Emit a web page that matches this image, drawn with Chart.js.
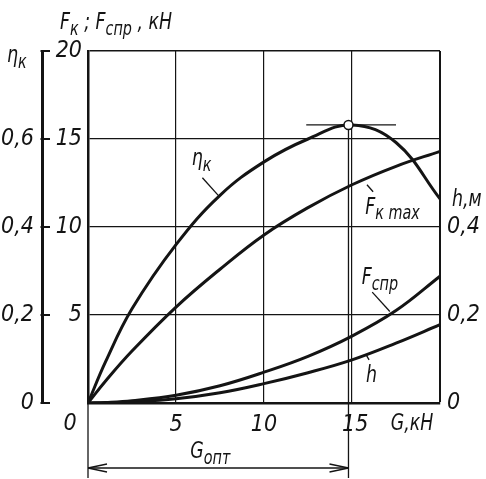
<!DOCTYPE html>
<html>
<head>
<meta charset="utf-8">
<script src="https://cdn.jsdelivr.net/npm/chart.js@4"></script>
<style>
  body { margin: 0; background: #fff; }
  canvas { display: block; }
</style>
</head>
<body>
<canvas id="chart" width="486" height="479"></canvas>
<script>
// load on the wheel G, kN
const loadG = [0, 1, 2.5, 5, 7.5, 10, 12.5, 15, 17.5, 20];
// efficiency (left scale)
const etaK = [0, 0.094, 0.214, 0.36, 0.472, 0.548, 0.6, 0.632, 0.592, 0.464];
// forces, kN
const fKmax = [0, 1.25, 2.95, 5.45, 7.6, 9.55, 11.1, 12.4, 13.45, 14.3];
const fSpr = [0, 0.03, 0.13, 0.44, 0.98, 1.75, 2.65, 3.8, 5.25, 7.2];
// rut depth h, m (right scale)
const hSink = [0, 0.0004, 0.0024, 0.0096, 0.0232, 0.044, 0.0688, 0.098, 0.136, 0.178];

// tick labels
const gTicks = [5, 10, 15];
const forceTicks = [5, 10, 15, 20];
const etaTicks = [0, 0.2, 0.4, 0.6];
const hTicks = [0, 0.2, 0.4];

// optimum
const gOpt = 14.8;
const etaMax = 0.632;
const tangentG = [12.4, 17.5];

const FAMILY = "'Liberation Sans Narrow', 'DejaVu Sans Condensed', sans-serif";
const INK = '#141414';
const SIZE = 23;
const tickFont = { family: FAMILY, size: SIZE, style: 'italic' };

const fmt = v => String(+v.toFixed(1)).replace('.', ',');
const has = (arr, v) => arr.some(t => Math.abs(t - v) < 1e-6);
const pts = ys => loadG.map((g, i) => ({ x: g, y: ys[i] }));

const curve = {
    borderColor: INK,
    borderWidth: 3,
    pointRadius: 0,
    tension: 0.4,
    fill: false,
};

// text with subscripts, a bit narrowed like drafting type
function rich(ctx, x, y, parts, size) {
    ctx.save();
    ctx.translate(x, y);
    ctx.scale(0.84, 1);
    let cx = 0;
    for (const [t, sub] of parts) {
        const s = sub ? Math.round(size * 0.82) : size;
        ctx.font = `italic ${s}px ${FAMILY}`;
        ctx.fillText(t, cx, sub ? size * 0.24 : 0);
        cx += ctx.measureText(t).width;
    }
    ctx.restore();
}

function line(ctx, x1, y1, x2, y2, w) {
    ctx.lineWidth = w;
    ctx.beginPath();
    ctx.moveTo(x1, y1);
    ctx.lineTo(x2, y2);
    ctx.stroke();
}

const decor = {
    id: 'decor',
    beforeDatasetsDraw(chart) {
        const { ctx, scales: { x, eta } } = chart;
        ctx.save();
        ctx.strokeStyle = INK;
        // G opt line from the peak down below the axis
        const xo = x.getPixelForValue(gOpt);
        line(ctx, xo, eta.getPixelForValue(etaMax), xo, chart.height - 1, 1.3);
        ctx.restore();
    },
    afterDraw(chart) {
        const { ctx, scales: { x, f, eta, h } } = chart;
        ctx.save();
        ctx.strokeStyle = INK;
        ctx.fillStyle = INK;
        ctx.textBaseline = 'alphabetic';
        ctx.textAlign = 'left';

        // ticks of the eta bar, pointing right
        for (const v of [0, 0.2, 0.4, 0.6, 0.8]) {
            const y = eta.getPixelForValue(v);
            line(ctx, eta.right - 1.5, y, eta.right + 8, y, 2);
        }

        // G opt dimension
        const x0 = x.getPixelForValue(0);
        const xo = x.getPixelForValue(gOpt);
        const yb = x.bottom - 11;
        line(ctx, x0, x.top, x0, chart.height - 1, 1.3);
        line(ctx, x0, yb, xo, yb, 1.3);
        line(ctx, x0, yb, x0 + 19, yb - 4, 1.3);
        line(ctx, x0, yb, x0 + 19, yb + 4, 1.3);
        line(ctx, xo, yb, xo - 19, yb - 4, 1.3);
        line(ctx, xo, yb, xo - 19, yb + 4, 1.3);
        rich(ctx, (x0 + xo) / 2 - 28, yb - 10, [['G'], ['опт', 1]], SIZE);

        // axis titles
        rich(ctx, 60, 29, [['F'], ['к', 1], [' ;'], [' F'], ['спр', 1], [' ,'], [' кН']], SIZE);
        rich(ctx, 7, 62, [['η'], ['к', 1]], SIZE);
        rich(ctx, h.left + 12, h.getPixelForValue(0.4) - 21, [['h,м']], SIZE);
        rich(ctx, x.getPixelForValue(17.2), x.top + 27, [['G,кН']], SIZE);
        ctx.font = `italic ${SIZE}px ${FAMILY}`;
        ctx.textAlign = 'center';
        ctx.fillText('0', x0 - 18, x.top + 27);
        ctx.textAlign = 'left';

        // curve labels with leaders
        const px = g => x.getPixelForValue(g);
        const py = v => f.getPixelForValue(v);
        rich(ctx, px(5.9), py(13.5), [['η'], ['к', 1]], SIZE);
        line(ctx, px(6.5), py(12.8), px(7.4), py(11.8), 1.3);
        rich(ctx, px(15.75), py(10.75), [['F'], ['к max', 1]], SIZE);
        line(ctx, px(15.85), py(12.4), px(16.2), py(12.0), 1.3);
        rich(ctx, px(15.55), py(6.75), [['F'], ['спр', 1]], SIZE);
        line(ctx, px(16.15), py(6.3), px(17.15), py(5.2), 1.3);
        rich(ctx, px(15.8), py(1.2), [['h']], SIZE);
        line(ctx, px(15.8), py(2.75), px(15.97), py(2.45), 1.3);

        ctx.restore();
    }
};

new Chart(document.getElementById('chart'), {
    type: 'line',
    data: {
        datasets: [
            { data: [{ x: gOpt, y: etaMax }], yAxisID: 'eta', showLine: false, order: -1,
              pointRadius: 4.5, pointBackgroundColor: '#fff', pointBorderColor: INK, pointBorderWidth: 1.5 },
            { ...curve, data: pts(etaK), yAxisID: 'eta' },
            { ...curve, data: pts(fKmax), yAxisID: 'f' },
            { ...curve, data: pts(fSpr), yAxisID: 'f' },
            { ...curve, data: pts(hSink), yAxisID: 'h' },
            { data: tangentG.map(g => ({ x: g, y: etaMax })), yAxisID: 'eta',
              borderColor: INK, borderWidth: 1.4, pointRadius: 0 },
        ]
    },
    options: {
        responsive: false,
        animation: false,
        layout: { padding: { top: 51, left: 0, right: 0, bottom: 0 } },
        plugins: { legend: { display: false }, tooltip: { enabled: false } },
        scales: {
            x: {
                type: 'linear', min: 0, max: 20,
                ticks: { stepSize: 5, autoSkip: false, maxRotation: 0, padding: 8, color: INK, font: tickFont,
                         callback: v => has(gTicks, v) ? (v === 15 ? ' 15' : String(v)) : '' },
                grid: { color: INK, drawTicks: false, lineWidth: c => (c.tick && c.tick.value === 20) ? 2 : 1.2 },
                border: { color: INK, width: 2.5 },
                afterFit: s => { s.height = 76; }
            },
            f: {
                position: 'left', weight: 0, min: 0, max: 20,
                ticks: { stepSize: 5, padding: 6, color: INK, font: tickFont,
                         callback: v => has(forceTicks, v) ? String(v) : '' },
                grid: { color: INK, drawTicks: false, lineWidth: c => (c.tick && c.tick.value === 20) ? 1.6 : 1.2 },
                border: { color: INK, width: 2.5 },
                afterFit: s => { s.width = 46; }
            },
            eta: {
                position: 'left', weight: 1, min: 0, max: 0.8,
                ticks: { stepSize: 0.2, padding: 8, color: INK, font: tickFont,
                         callback: v => has(etaTicks, v) ? fmt(v) : '' },
                grid: { display: false, drawTicks: false },
                border: { color: INK, width: 3 },
                afterFit: s => { s.width = 42; }
            },
            h: {
                position: 'right', min: 0, max: 0.8,
                ticks: { stepSize: 0.2, padding: 7, color: INK, font: tickFont,
                         callback: v => has(hTicks, v) ? fmt(v) : '' },
                grid: { display: false, drawTicks: false },
                border: { display: false },
                afterFit: s => { s.width = 46; }
            }
        }
    },
    plugins: [decor]
});
</script>
</body>
</html>
